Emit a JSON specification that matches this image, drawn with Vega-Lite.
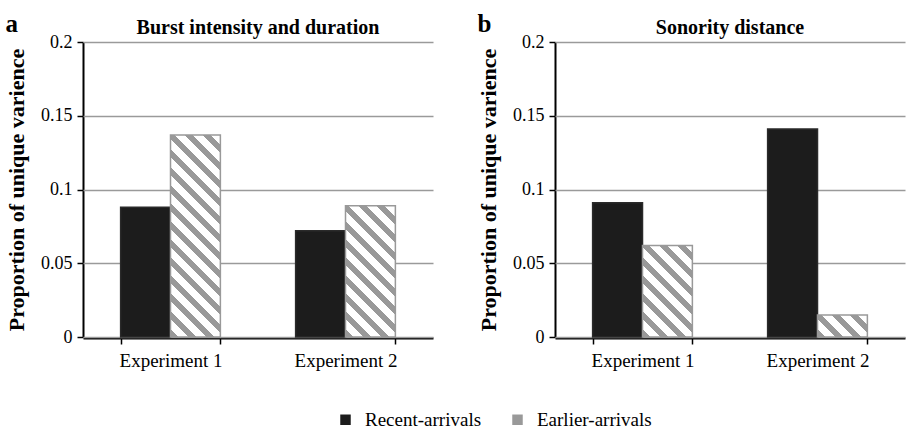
{
  "$schema": "https://vega.github.io/schema/vega-lite/v6.json",
  "background": "white",
  "padding": {"top": 12, "left": 5, "right": 5, "bottom": 5},
  "params": [
    {"name": "hatch", "value": [
      {"offset":0,"color":"#999999"},{"offset":0.0321,"color":"#999999"},{"offset":0.0321,"color":"#ffffff"},{"offset":0.0714,"color":"#ffffff"},
      {"offset":0.0714,"color":"#999999"},{"offset":0.1036,"color":"#999999"},{"offset":0.1036,"color":"#ffffff"},{"offset":0.1429,"color":"#ffffff"},
      {"offset":0.1429,"color":"#999999"},{"offset":0.175,"color":"#999999"},{"offset":0.175,"color":"#ffffff"},{"offset":0.2143,"color":"#ffffff"},
      {"offset":0.2143,"color":"#999999"},{"offset":0.2464,"color":"#999999"},{"offset":0.2464,"color":"#ffffff"},{"offset":0.2857,"color":"#ffffff"},
      {"offset":0.2857,"color":"#999999"},{"offset":0.3179,"color":"#999999"},{"offset":0.3179,"color":"#ffffff"},{"offset":0.3571,"color":"#ffffff"},
      {"offset":0.3571,"color":"#999999"},{"offset":0.3893,"color":"#999999"},{"offset":0.3893,"color":"#ffffff"},{"offset":0.4286,"color":"#ffffff"},
      {"offset":0.4286,"color":"#999999"},{"offset":0.4607,"color":"#999999"},{"offset":0.4607,"color":"#ffffff"},{"offset":0.5,"color":"#ffffff"},
      {"offset":0.5,"color":"#999999"},{"offset":0.5321,"color":"#999999"},{"offset":0.5321,"color":"#ffffff"},{"offset":0.5714,"color":"#ffffff"},
      {"offset":0.5714,"color":"#999999"},{"offset":0.6036,"color":"#999999"},{"offset":0.6036,"color":"#ffffff"},{"offset":0.6429,"color":"#ffffff"},
      {"offset":0.6429,"color":"#999999"},{"offset":0.675,"color":"#999999"},{"offset":0.675,"color":"#ffffff"},{"offset":0.7143,"color":"#ffffff"},
      {"offset":0.7143,"color":"#999999"},{"offset":0.7464,"color":"#999999"},{"offset":0.7464,"color":"#ffffff"},{"offset":0.7857,"color":"#ffffff"},
      {"offset":0.7857,"color":"#999999"},{"offset":0.8179,"color":"#999999"},{"offset":0.8179,"color":"#ffffff"},{"offset":0.8571,"color":"#ffffff"},
      {"offset":0.8571,"color":"#999999"},{"offset":0.8893,"color":"#999999"},{"offset":0.8893,"color":"#ffffff"},{"offset":0.9286,"color":"#ffffff"},
      {"offset":0.9286,"color":"#999999"},{"offset":0.9607,"color":"#999999"},{"offset":0.9607,"color":"#ffffff"},{"offset":1,"color":"#ffffff"}
    ]}
  ],
  "data": {"values": [
    {"panel":"a","ptitle":"Burst intensity and duration","experiment":"Experiment 1","group":"Recent-arrivals","value":0.088},
    {"panel":"a","ptitle":"Burst intensity and duration","experiment":"Experiment 1","group":"Earlier-arrivals","value":0.137},
    {"panel":"a","ptitle":"Burst intensity and duration","experiment":"Experiment 2","group":"Recent-arrivals","value":0.072},
    {"panel":"a","ptitle":"Burst intensity and duration","experiment":"Experiment 2","group":"Earlier-arrivals","value":0.089},
    {"panel":"b","ptitle":"Sonority distance","experiment":"Experiment 1","group":"Recent-arrivals","value":0.091},
    {"panel":"b","ptitle":"Sonority distance","experiment":"Experiment 1","group":"Earlier-arrivals","value":0.062},
    {"panel":"b","ptitle":"Sonority distance","experiment":"Experiment 2","group":"Recent-arrivals","value":0.141},
    {"panel":"b","ptitle":"Sonority distance","experiment":"Experiment 2","group":"Earlier-arrivals","value":0.015}
  ]},
  "spacing": 44,
  "resolve": {"scale": {"fill": "shared", "stroke": "shared"}, "legend": {"fill": "shared"}},
  "hconcat": [
    {
      "transform": [{"filter": "datum.panel == 'a'"}],
      "title": {"text": "a", "anchor": "start", "frame": "bounds", "fontSize": 25, "font": "Liberation Serif", "fontWeight": "bold", "color": "black", "offset": -19},
      "facet": {"column": {"field": "ptitle", "type": "nominal", "header": {"title": null}}},
      "spec": {
        "width": 350,
        "height": 295,
        "mark": {"type": "bar", "strokeWidth": 1.5},
        "encoding": {
          "x": {"field": "experiment", "type": "nominal", "scale": {"paddingInner": 0.43, "paddingOuter": 0.215},
                "axis": {"title": null, "tickBand": "extent", "labelAngle": 0}},
          "xOffset": {"field": "group", "type": "nominal", "sort": ["Recent-arrivals", "Earlier-arrivals"]},
          "y": {"field": "value", "type": "quantitative", "scale": {"domain": [0, 0.2]},
                "axis": {"title": "Proportion of unique varience", "values": [0, 0.05, 0.1, 0.15, 0.2], "format": ".2~f"}},
          "fill": {"field": "group", "type": "nominal",
                   "scale": {"domain": ["Recent-arrivals", "Earlier-arrivals"], "range": ["#1c1c1c", "#999999"]},
                   "legend": {"orient": "none", "legendX": 253, "legendY": 368, "direction": "horizontal", "title": null,
                              "symbolType": "square", "symbolSize": 110, "symbolStrokeWidth": 0,
                              "labelFontSize": 19, "labelFont": "Liberation Serif", "labelColor": "black", "labelOffset": 10, "columnPadding": 26},
                   "condition": [
                     {"test": "datum.panel == 'a' && datum.experiment == 'Experiment 1' && datum.group == 'Earlier-arrivals'", "value": {"expr": "{gradient: 'linear', x1: 0, y1: 1, x2: 0.291, y2: -0.1755, stops: hatch}"}},
                     {"test": "datum.panel == 'a' && datum.experiment == 'Experiment 2' && datum.group == 'Earlier-arrivals'", "value": {"expr": "{gradient: 'linear', x1: 0, y1: 1, x2: 0.6409, y2: -0.679, stops: hatch}"}}
                   ]},
          "stroke": {"field": "group", "type": "nominal", "scale": {"domain": ["Recent-arrivals", "Earlier-arrivals"], "range": ["#2a2a2a", "#999999"]}, "legend": null}
        }
      }
    },
    {
      "transform": [{"filter": "datum.panel == 'b'"}],
      "title": {"text": "b", "anchor": "start", "frame": "bounds", "fontSize": 25, "font": "Liberation Serif", "fontWeight": "bold", "color": "black", "offset": -19},
      "facet": {"column": {"field": "ptitle", "type": "nominal", "header": {"title": null}}},
      "spec": {
        "width": 350,
        "height": 295,
        "mark": {"type": "bar", "strokeWidth": 1.5},
        "encoding": {
          "x": {"field": "experiment", "type": "nominal", "scale": {"paddingInner": 0.43, "paddingOuter": 0.215},
                "axis": {"title": null, "tickBand": "extent", "labelAngle": 0}},
          "xOffset": {"field": "group", "type": "nominal", "sort": ["Recent-arrivals", "Earlier-arrivals"]},
          "y": {"field": "value", "type": "quantitative", "scale": {"domain": [0, 0.2]},
                "axis": {"title": "Proportion of unique varience", "values": [0, 0.05, 0.1, 0.15, 0.2], "format": ".2~f"}},
          "fill": {"field": "group", "type": "nominal",
                   "scale": {"domain": ["Recent-arrivals", "Earlier-arrivals"], "range": ["#1c1c1c", "#999999"]},
                   "legend": {"orient": "none", "legendX": 253, "legendY": 368, "direction": "horizontal", "title": null,
                              "symbolType": "square", "symbolSize": 110, "symbolStrokeWidth": 0,
                              "labelFontSize": 19, "labelFont": "Liberation Serif", "labelColor": "black", "labelOffset": 10, "columnPadding": 26},
                   "condition": [
                     {"test": "datum.panel == 'b' && datum.experiment == 'Experiment 1' && datum.group == 'Earlier-arrivals'", "value": {"expr": "{gradient: 'linear', x1: 0, y1: 1, x2: 1.1589, y2: -1.1208, stops: hatch}"}},
                     {"test": "datum.panel == 'b' && datum.experiment == 'Experiment 2' && datum.group == 'Earlier-arrivals'", "value": {"expr": "{gradient: 'linear', x1: 0, y1: 1, x2: 4.2225, y2: -0.8579, stops: hatch}"}}
                   ]},
          "stroke": {"field": "group", "type": "nominal", "scale": {"domain": ["Recent-arrivals", "Earlier-arrivals"], "range": ["#2a2a2a", "#999999"]}, "legend": null}
        }
      }
    }
  ],
  "config": {
    "view": {"stroke": null},
    "font": "Liberation Serif",
    "header": {"labelFont": "Liberation Serif", "labelFontSize": 20, "labelFontWeight": "bold", "labelColor": "black", "labelPadding": 4},
    "axisX": {"domainColor": "black", "domainWidth": 2, "tickColor": "black", "tickWidth": 1.5, "tickSize": 6,
              "labelFont": "Liberation Serif", "labelFontSize": 19, "labelColor": "black", "labelPadding": 7, "grid": false},
    "axisY": {"domainColor": "black", "domainWidth": 2, "tickColor": "black", "tickWidth": 1.5, "tickSize": 6,
              "grid": true, "gridColor": "#9a9a9a", "gridWidth": 1.5,
              "labelFont": "Liberation Serif", "labelFontSize": 18, "labelColor": "black", "labelPadding": 5,
              "titleFont": "Liberation Serif", "titleFontSize": 22, "titleFontWeight": "bold", "titleColor": "black", "titlePadding": 12}
  }
}
